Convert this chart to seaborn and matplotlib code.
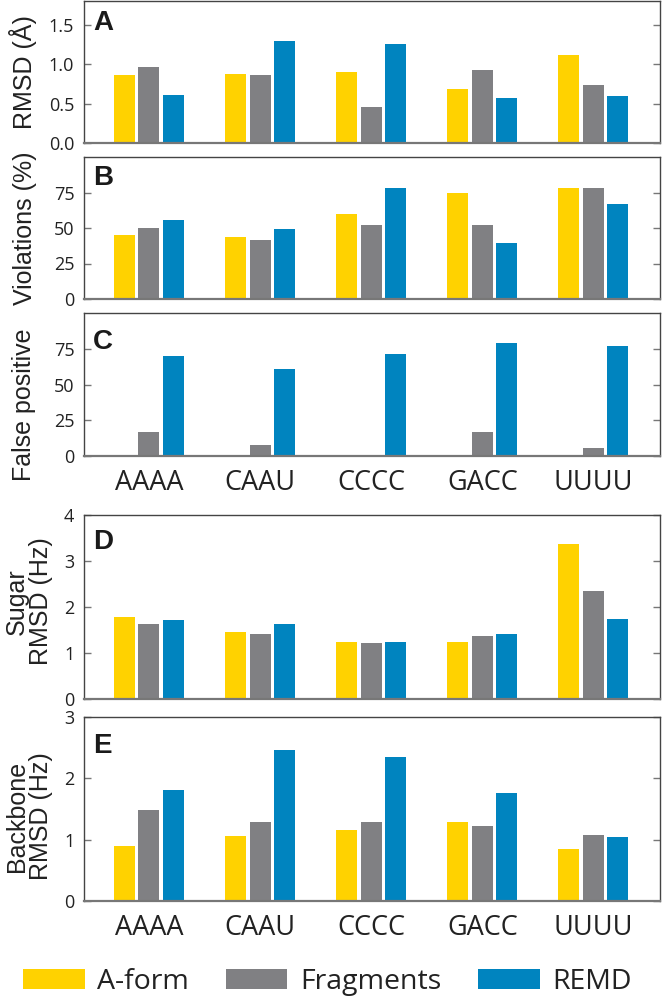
import numpy as np
import pandas as pd
import matplotlib
matplotlib.use('Agg')
import matplotlib.pyplot as plt
import seaborn as sns

# datos
secuencias = ['AAAA', 'CAAU', 'CCCC', 'GACC', 'UUUU']
metodos = ['A-form', 'Fragments', 'REMD']

rmsd_aform = [0.86, 0.87, 0.90, 0.69, 1.12]
rmsd_frag = [0.96, 0.86, 0.45, 0.92, 0.74]
rmsd_remd = [0.61, 1.29, 1.25, 0.57, 0.59]

viol_aform = [44.8, 43.6, 59.7, 74.5, 78.0]
viol_frag = [50.2, 41.3, 51.9, 52.4, 78.0]
viol_remd = [55.9, 49.0, 78.0, 39.2, 67.2]

fp_aform = [0.0, 0.0, 0.0, 0.0, 0.0]
fp_frag = [16.7, 7.7, 0.0, 16.7, 5.9]
fp_remd = [69.8, 60.7, 71.0, 79.0, 76.9]

sugar_aform = [1.78, 1.46, 1.25, 1.24, 3.37]
sugar_frag = [1.64, 1.42, 1.22, 1.38, 2.35]
sugar_remd = [1.71, 1.62, 1.25, 1.41, 1.75]

bb_aform = [0.90, 1.06, 1.16, 1.29, 0.84]
bb_frag = [1.49, 1.29, 1.28, 1.23, 1.07]
bb_remd = [1.81, 2.47, 2.34, 1.76, 1.04]

colores = {'A-form': '#FFD200', 'Fragments': '#808083', 'REMD': '#0084BF'}


def tabla(a, f, r):
    filas = []
    for serie, vals in zip(metodos, [a, f, r]):
        for s, v in zip(secuencias, vals):
            filas.append({'seq': s, 'metodo': serie, 'valor': v})
    return pd.DataFrame(filas)


paneles = [
    ('A', tabla(rmsd_aform, rmsd_frag, rmsd_remd), 'RMSD (Å)', (0, 1.8),
     [0, 0.5, 1.0, 1.5], ['0.0', '0.5', '1.0', '1.5'], False),
    ('B', tabla(viol_aform, viol_frag, viol_remd), 'Violations (%)', (0, 100),
     [0, 25, 50, 75], ['0', '25', '50', '75'], False),
    ('C', tabla(fp_aform, fp_frag, fp_remd), 'False positive', (0, 100),
     [0, 25, 50, 75], ['0', '25', '50', '75'], True),
    ('D', tabla(sugar_aform, sugar_frag, sugar_remd), 'Sugar\nRMSD (Hz)', (0, 4),
     [0, 1, 2, 3, 4], ['0', '1', '2', '3', '4'], False),
    ('E', tabla(bb_aform, bb_frag, bb_remd), 'Backbone\nRMSD (Hz)', (0, 3),
     [0, 1, 2, 3], ['0', '1', '2', '3'], True),
]

# posiciones en pixeles (top, bottom) de cada panel
W, H = 662, 1001
cajas = [(1, 143), (157, 299), (313, 456), (515, 699), (717, 901)]
etiqueta_x = [-0.082, -0.082, -0.084, -0.054, -0.054]
etiqueta_y = [0.5, 0.5, 0.36, 0.53, 0.46]
letra_off = [9, 8, 16, 14, 16]

sns.set_style('white')
plt.rcParams['font.family'] = ['Liberation Sans', 'DejaVu Sans']

fig = plt.figure(figsize=(W / 100, H / 100), dpi=100)
izq, der = 84, 660

for i, (letra, df, ylab, ylim, ticks, tlabels, conx) in enumerate(paneles):
    top, bot = cajas[i]
    ax = fig.add_axes([izq / W, 1 - bot / H, (der - izq) / W, (bot - top) / H])
    sns.barplot(data=df, x='seq', y='valor', hue='metodo', palette=colores,
                width=0.66, gap=0.14, linewidth=0, saturation=1,
                legend=(i == 4), ax=ax)
    ax.set_xlim(-0.585, 4.6)
    ax.set_ylim(*ylim)
    ax.set_yticks(ticks)
    ax.set_yticklabels(tlabels, fontfamily='Open Sans', fontsize=13, color='#222222')
    ax.tick_params(axis='y', which='both', left=True, right=True, direction='in',
                   length=5, width=1, color='#777777', pad=7)
    ax.set_xlabel('')
    ax.set_ylabel(ylab, fontsize=18, color='#222222', linespacing=1.0)
    ax.yaxis.set_label_coords(etiqueta_x[i], etiqueta_y[i])
    if conx:
        ax.set_xticks(range(len(secuencias)))
        ax.set_xticklabels(secuencias, fontfamily='Open Sans', fontsize=19.5, color='#222222')
        ax.tick_params(axis='x', bottom=False, pad=6)
    else:
        ax.set_xticks([])
    for lado in ['top', 'left', 'right']:
        ax.spines[lado].set_color('#444444')
        ax.spines[lado].set_linewidth(1.0)
    ax.spines['bottom'].set_color('#777777')
    ax.spines['bottom'].set_linewidth(1.6)
    ax.annotate(letra, xy=(0.016, 1), xycoords='axes fraction',
                xytext=(0, -letra_off[i] * 0.72), textcoords='offset points',
                fontsize=20, fontweight='bold', color='#1a1a1a', va='top', ha='left')
    if i == 4:
        handles, labels = ax.get_legend_handles_labels()
        ax.get_legend().remove()

fig.legend(handles, labels, loc='center', bbox_to_anchor=(0.495, 0.019), ncol=3,
           frameon=False, prop={'family': 'Open Sans', 'size': 20.5},
           handlelength=2.15, handleheight=0.72, handletextpad=0.45, columnspacing=1.3,
           labelcolor='#222222')

fig.savefig('out.png', dpi=100)
